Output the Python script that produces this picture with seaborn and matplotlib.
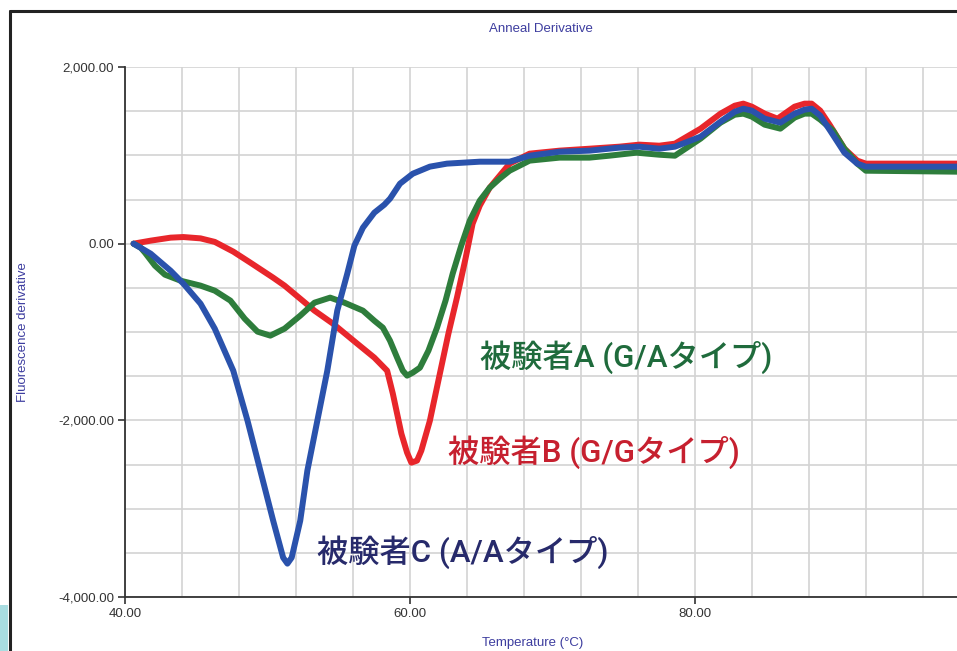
import matplotlib
matplotlib.use("Agg")
import matplotlib.pyplot as plt
import matplotlib.ticker as mticker
from matplotlib.lines import Line2D
from matplotlib.patches import Rectangle
import numpy as np
import pandas as pd
import seaborn as sns

# ── data ──
temp_a = [40.6, 41.1, 41.4, 42.1, 42.8, 43.9, 45.3, 46.3, 47.4, 48.4, 49.3, 50.2, 51.2, 52.3, 53.3,
          54.4, 55.4, 56.7, 57.5, 58.1, 58.6, 59.1, 59.5, 59.8, 60.2, 60.7, 61.3, 61.9, 62.5, 63.0,
          63.6, 64.2, 64.9, 65.6, 66.3, 67.0, 68.4, 70.5, 72.6, 74.0, 75.9, 77.5, 78.6, 80.4, 81.8,
          82.8, 83.4, 84.0, 84.9, 86.0, 87.0, 87.7, 88.2, 88.8, 89.7, 90.5, 91.4, 92.0, 98.4]
deriv_a = [0, -45, -102, -249, -351, -419, -475, -532, -645, -849, -996, -1041, -962, -815, -668,
           -611, -668, -758, -872, -951, -1098, -1290, -1438, -1494, -1460, -1404, -1211, -951, -645, -340,
           -23, 260, 487, 634, 736, 826, 940, 974, 974, 996, 1030, 1007, 996, 1189, 1370,
           1460, 1472, 1438, 1347, 1302, 1427, 1472, 1472, 1404, 1279, 1075, 906, 826, 815]

temp_b = [40.6, 41.8, 43.2, 44.1, 45.3, 46.3, 47.6, 48.8, 50.4, 51.2, 52.3, 53.3, 54.6, 56.3, 57.5,
          58.4, 58.8, 59.4, 59.8, 60.1, 60.5, 60.8, 61.4, 62.1, 62.7, 63.3, 63.9, 64.4, 64.9, 65.6,
          66.3, 67.0, 68.4, 70.5, 72.6, 74.7, 76.1, 77.5, 78.6, 80.4, 81.8, 82.8, 83.4, 84.0, 84.9,
          85.8, 87.0, 87.7, 88.2, 88.8, 89.5, 90.5, 91.4, 92.0, 98.4]
deriv_b = [0, 34, 68, 75, 60, 20, -90, -215, -385, -475, -623, -758, -906, -1132, -1290,
           -1438, -1698, -2151, -2366, -2479, -2456, -2343, -2004, -1472, -1019, -611, -170, 226, 430, 634,
           770, 906, 1019, 1053, 1075, 1098, 1121, 1109, 1132, 1302, 1472, 1562, 1585, 1551, 1472,
           1415, 1551, 1585, 1585, 1506, 1336, 1075, 940, 906, 906]

temp_c = [40.6, 41.8, 43.2, 44.1, 45.3, 46.3, 47.6, 48.6, 49.5, 50.4, 51.1, 51.4, 51.7, 52.3, 52.8,
          53.5, 54.2, 54.9, 55.6, 56.1, 56.7, 57.5, 58.2, 58.6, 59.3, 60.2, 61.4, 62.6, 64.9, 67.0,
          68.4, 70.5, 72.6, 74.7, 76.1, 77.5, 78.6, 80.4, 81.8, 82.8, 83.4, 84.0, 84.9, 86.0, 87.0,
          87.7, 88.2, 88.8, 89.5, 90.5, 91.4, 92.0, 98.4]
deriv_c = [0, -113, -306, -453, -679, -962, -1438, -2004, -2570, -3136, -3554, -3622, -3554, -3136, -2570,
           -2004, -1438, -758, -340, -23, 181, 351, 441, 509, 679, 792, 872, 906, 928, 928,
           996, 1041, 1053, 1087, 1098, 1075, 1098, 1211, 1381, 1494, 1528, 1506, 1415, 1370, 1472,
           1517, 1528, 1449, 1279, 1030, 906, 872, 872]

labels = {"A": "被験者A (G/Aタイプ)", "B": "被験者B (G/Gタイプ)", "C": "被験者C (A/Aタイプ)"}
line_colors = {"A": "#2e7d3c", "B": "#e8262b", "C": "#2a52ac"}
text_colors = {"A": "#1f6b3c", "B": "#c6202f", "C": "#272a6b"}

df = pd.concat([
    pd.DataFrame({"temp": temp_a, "deriv": deriv_a, "subject": "A"}),
    pd.DataFrame({"temp": temp_b, "deriv": deriv_b, "subject": "B"}),
    pd.DataFrame({"temp": temp_c, "deriv": deriv_c, "subject": "C"}),
], ignore_index=True)

# ── style ──
sns.set_theme(style="white")
plt.rcParams["font.family"] = ["Liberation Sans", "DejaVu Sans"]

fig = plt.figure(figsize=(9.57, 6.51), dpi=100)
ax = fig.add_axes([125 / 957, 1 - 597 / 651, 832 / 957, 530 / 651])

sns.lineplot(data=df, x="temp", y="deriv", hue="subject", hue_order=["B", "A", "C"],
             palette=line_colors, sort=False, estimator=None, lw=4.3, ax=ax, legend=False)
for ln in ax.lines:
    ln.set_solid_capstyle("round")
    ln.set_solid_joinstyle("round")

ax.set_xlim(40, 98.4)
ax.set_ylim(-4000, 2000)
ax.set_xticks([40, 60, 80])
ax.set_xticks(np.arange(44, 98, 4), minor=True)
ax.set_yticks([-4000, -2000, 0, 2000])
ax.set_yticks(np.arange(-3500, 2000, 500), minor=True)
ax.xaxis.set_major_formatter(mticker.FuncFormatter(lambda v, p: f"{v:,.2f}"))
ax.yaxis.set_major_formatter(mticker.FuncFormatter(lambda v, p: f"{v:,.2f}"))
ax.grid(True, which="both", color="#d3d3d3", lw=1.2)
ax.set_axisbelow(True)
ax.tick_params(which="major", direction="out", length=5, width=1.2, color="#333333",
               labelsize=9.5, labelcolor="#333333", bottom=True, left=True, pad=3)
ax.tick_params(which="minor", length=0)
for side in ["top", "right"]:
    ax.spines[side].set_visible(False)
for side in ["left", "bottom"]:
    ax.spines[side].set_color("#333333")
    ax.spines[side].set_linewidth(1.3)

ax.set_title("Anneal Derivative", fontsize=9.5, color="#3d3d9f", pad=25)
ax.set_xlabel("Temperature (°C)", fontsize=9.5, color="#3d3d9f")
ax.xaxis.set_label_coords(0.49, -0.075)
ax.set_ylabel("Fluorescence derivative", fontsize=9.5, color="#3d3d9f")
ax.yaxis.set_label_coords(-0.115, 0.5)

# annotations
ann_pos = {"A": (64.9, -1290), "B": (62.7, -2360), "C": (53.5, -3490)}
for key, (tx, ty) in ann_pos.items():
    ax.text(tx, ty, labels[key], color=text_colors[key], fontsize=22.5, ha="left", va="center",
            family=["Roboto", "Noto Sans CJK JP"], fontweight="medium")

# outer frame and corner patch
fig.add_artist(Line2D([10 / 957, 10 / 957], [0, 1 - 11 / 651], transform=fig.transFigure,
                      color="#222222", lw=2.2))
fig.add_artist(Line2D([10 / 957, 1], [1 - 11 / 651, 1 - 11 / 651], transform=fig.transFigure,
                      color="#222222", lw=2.2))
fig.add_artist(Rectangle((0, 0), 8 / 957, 46 / 651, transform=fig.transFigure,
                         color="#a9dde1", lw=0))

fig.savefig("out.png", dpi=100)
